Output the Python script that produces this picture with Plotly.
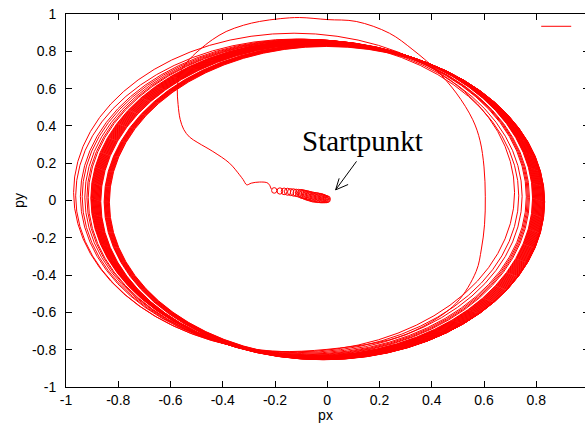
import plotly.graph_objects as go

# Phase-space trajectory (px, py)
# Early path: from the small loops near the start, up over the first big loop
trans_x = [-0.214, -0.227, -0.259, -0.291, -0.308, -0.322, -0.336, -0.374, -0.438,
           -0.495, -0.527, -0.549, -0.563, -0.571, -0.574, -0.570, -0.558, -0.540,
           -0.515, -0.489, -0.440, -0.387, -0.320, -0.259, -0.180, -0.106,
           0.000, 0.111, 0.238, 0.328, 0.417, 0.494, 0.557, 0.585, 0.600, 0.605,
           0.602, 0.590, 0.570, 0.494, 0.366, 0.238, 0.047, -0.144, -0.300]
trans_y = [0.061, 0.093, 0.099, 0.093, 0.084, 0.112, 0.138, 0.200, 0.263,
           0.310, 0.340, 0.380, 0.435, 0.515, 0.594, 0.650, 0.700, 0.737,
           0.775, 0.808, 0.862, 0.906, 0.940, 0.960, 0.975, 0.981,
           0.970, 0.960, 0.897, 0.808, 0.700, 0.576, 0.433, 0.320, 0.180, 0.020,
           -0.130, -0.260, -0.380, -0.550, -0.676, -0.747, -0.791, -0.810, -0.800]

# Small loops around the starting point (centre and half-sizes)
spiral_cx = [-0.203, -0.181, -0.165, -0.152, -0.140, -0.129, -0.119, -0.110,
             -0.102, -0.097, -0.092, -0.087, -0.082, -0.077, -0.072, -0.067,
             -0.062, -0.057, -0.052, -0.047, -0.042, -0.037, -0.032, -0.027,
             -0.022, -0.018, -0.014, -0.010, -0.006, -0.002, 0.002]
spiral_cy = [0.054, 0.051, 0.049, 0.047, 0.045, 0.043, 0.041, 0.039,
             0.037, 0.035, 0.033, 0.031, 0.029, 0.027, 0.025, 0.023,
             0.021, 0.019, 0.018, 0.017, 0.016, 0.015, 0.014, 0.013,
             0.012, 0.011, 0.010, 0.009, 0.008, 0.007, 0.007]
spiral_rx = [0.010, 0.011, 0.011, 0.012, 0.012, 0.012, 0.012, 0.012,
             0.012, 0.013, 0.013, 0.013, 0.013, 0.013, 0.013, 0.013,
             0.013, 0.013, 0.013, 0.013, 0.013, 0.013, 0.013, 0.013,
             0.013, 0.013, 0.012, 0.012, 0.011, 0.011, 0.010]
spiral_ry = [0.015, 0.017, 0.018, 0.019, 0.019, 0.020, 0.020, 0.021,
             0.022, 0.023, 0.023, 0.024, 0.024, 0.025, 0.025, 0.025,
             0.026, 0.026, 0.026, 0.026, 0.026, 0.026, 0.025, 0.025,
             0.024, 0.023, 0.022, 0.021, 0.020, 0.019, 0.017]

# Extents of the large orbits (one entry per revolution)
loop_left = [-0.971, -0.963, -0.945, -0.938, -0.928, -0.920, -0.915,
             -0.905, -0.903, -0.901, -0.899, -0.897, -0.895, -0.893, -0.891,
             -0.889, -0.887, -0.885, -0.883, -0.881, -0.879, -0.877, -0.875,
             -0.873, -0.871, -0.869, -0.867,
             -0.854, -0.852, -0.850, -0.848, -0.846, -0.844, -0.842, -0.840,
             -0.838, -0.836, -0.834]
loop_right = [0.717, 0.733, 0.746, 0.762, 0.766, 0.770, 0.774,
              0.786, 0.788, 0.790, 0.792, 0.794, 0.796, 0.798, 0.800,
              0.802, 0.804, 0.806, 0.808, 0.810, 0.812, 0.814, 0.816,
              0.818, 0.820, 0.822, 0.824,
              0.826, 0.827, 0.828, 0.829, 0.830, 0.831, 0.832, 0.832,
              0.831, 0.830, 0.829]
loop_top = [0.897, 0.866, 0.865, 0.864, 0.863, 0.862, 0.861,
            0.860, 0.859, 0.858, 0.857, 0.856, 0.855, 0.854, 0.853,
            0.852, 0.851, 0.850, 0.849, 0.848, 0.847, 0.846, 0.845,
            0.844, 0.843, 0.842, 0.841,
            0.839, 0.838, 0.837, 0.836, 0.835, 0.834, 0.833, 0.832,
            0.830, 0.828, 0.826]
loop_bottom = [-0.812, -0.816, -0.820, -0.824, -0.827, -0.830, -0.832,
               -0.834, -0.835, -0.836, -0.837, -0.838, -0.839, -0.840, -0.841,
               -0.842, -0.843, -0.844, -0.845, -0.846, -0.847, -0.848, -0.849,
               -0.850, -0.851, -0.852, -0.853,
               -0.854, -0.853, -0.852, -0.851, -0.850, -0.849, -0.848, -0.847,
               -0.846, -0.845, -0.844]

tick_vals = [-1, -0.8, -0.6, -0.4, -0.2, 0, 0.2, 0.4, 0.6, 0.8, 1]
tick_text = ["-1", "-0.8", "-0.6", "-0.4", "-0.2", "0", "0.2", "0.4", "0.6", "0.8", "1"]

# Start point marked by the annotation arrow
start_x, start_y = 0.032, 0.057

RED = "#ff0000"
fig = go.Figure()
fig.add_trace(go.Scatter(x=trans_x, y=trans_y, mode="lines", name="",
                         line=dict(color=RED, width=1, shape="spline", smoothing=1.0),
                         showlegend=True, hoverinfo="skip"))
# invisible trace to carry the right-hand tick marks
fig.add_trace(go.Scatter(x=[None], y=[None], yaxis="y2", showlegend=False))

shapes = []
for l, r, t, b in zip(loop_left, loop_right, loop_top, loop_bottom):
    shapes.append(dict(type="circle", xref="x", yref="y", x0=l, x1=r, y0=b, y1=t,
                       line=dict(color=RED, width=1)))
for cx, cy, rx, ry in zip(spiral_cx, spiral_cy, spiral_rx, spiral_ry):
    shapes.append(dict(type="circle", xref="x", yref="y", x0=cx - rx, x1=cx + rx,
                       y0=cy - ry, y1=cy + ry, line=dict(color=RED, width=1)))

font = dict(family="Liberation Sans, Arial, sans-serif", size=14, color="black")
axis_common = dict(ticks="inside", ticklen=6, tickcolor="black", tickwidth=1,
                   showline=True, linecolor="black", linewidth=1,
                   showgrid=False, zeroline=False, tickfont=font)

fig.update_layout(
    width=585, height=423,
    margin=dict(l=66, r=0, t=14, b=36),
    paper_bgcolor="white", plot_bgcolor="white",
    font=font,
    shapes=shapes,
    xaxis=dict(range=[-1, 0.9866], tickvals=tick_vals, ticktext=tick_text,
               mirror="ticks", title=dict(text="px", font=font, standoff=2),
               **axis_common),
    yaxis=dict(range=[-1, 1], tickvals=tick_vals, ticktext=tick_text,
               mirror=False, ticklabelstandoff=6,
               title=dict(text="py", font=font, standoff=4), **axis_common),
    yaxis2=dict(range=[-1, 1], overlaying="y", side="right", tickvals=tick_vals,
                showticklabels=False, ticks="inside", ticklen=2, tickcolor="black",
                showline=False, showgrid=False, zeroline=False),
    legend=dict(x=0.906, y=0.966, xanchor="left", yanchor="middle",
                bgcolor="rgba(0,0,0,0)", borderwidth=0, font=font),
    annotations=[
        dict(x=0.133, y=0.266, xref="x", yref="y", text="Startpunkt", showarrow=False,
             yanchor="bottom", yshift=-8,
             font=dict(family="Liberation Serif, Times New Roman, serif", size=29,
                       color="black")),
        dict(x=start_x, y=start_y, xref="x", yref="y", ax=22, ay=-30, text="",
             showarrow=True, arrowhead=0, arrowwidth=1, arrowcolor="black"),
        dict(x=start_x, y=start_y, xref="x", yref="y", ax=4, ay=-13, text="",
             showarrow=True, arrowhead=0, arrowwidth=1, arrowcolor="black"),
        dict(x=start_x, y=start_y, xref="x", yref="y", ax=14, ay=-6, text="",
             showarrow=True, arrowhead=0, arrowwidth=1, arrowcolor="black"),
    ],
)

fig.write_html("out.html")
